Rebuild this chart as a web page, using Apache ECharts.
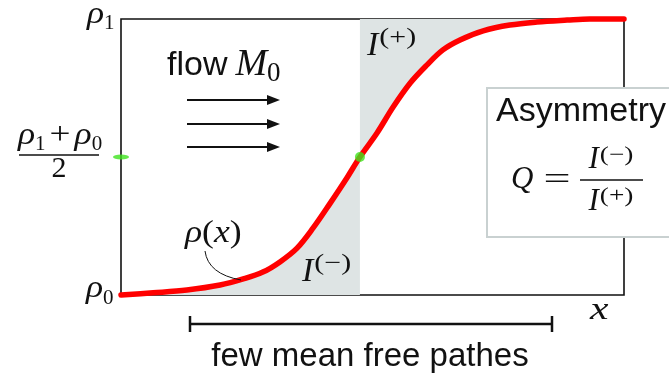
<!DOCTYPE html>
<html>
<head>
<meta charset="utf-8">
<script src="https://cdn.jsdelivr.net/npm/echarts@6/dist/echarts.min.js"></script>
<style>
  html, body { margin: 0; padding: 0; background: #fff; }
  #chart { width: 669px; height: 379px; }
</style>
</head>
<body>
<div id="chart"></div>
<script>
// Density profile ρ(x) through the shock layer.
// x in arbitrary length units (0..10), ρ normalised so that ρ0 = 0 and ρ1 = 1.
const xPos = [0, 0.64, 1.31, 1.97, 2.43, 2.82, 3.16, 3.50, 3.82, 4.16, 4.49, 4.75,
              5.09, 5.41, 5.75, 6.08, 6.40, 6.74, 7.20, 7.73, 8.27, 8.87, 9.32, 10];
const rho  = [0, 0.008, 0.018, 0.036, 0.058, 0.083, 0.120, 0.170, 0.243, 0.333, 0.424, 0.500,
              0.587, 0.681, 0.768, 0.833, 0.888, 0.924, 0.957, 0.978, 0.989, 0.996, 1.0, 1.0];
// index of the point where ρ = (ρ1 + ρ0) / 2
const midIndex = 11;
const rhoMid = 0.5;

const curve = xPos.map((x, i) => [x, rho[i]]);
const lowerPart = curve.slice(0, midIndex + 1);   // I(−): area under ρ(x)
const upperPart = curve.slice(midIndex);          // I(+): area between ρ(x) and ρ1

const chart = echarts.init(document.getElementById('chart'), null, { renderer: 'canvas' });

// --- helpers for the TeX-like labels ---
const measure = document.createElement('canvas').getContext('2d');
const SERIF = '"Liberation Serif", "DejaVu Serif", serif';
const SANS = '"Liberation Sans", "DejaVu Sans", sans-serif';
const INK = '#111';
function fontOf(p) {
  return (p.it ? 'italic ' : '') + p.size + 'px ' + (p.sans ? SANS : SERIF);
}
// lay out a row of glyph runs on a common baseline; sx widens a glyph run
function run(x, base, parts, align) {
  let w = 0;
  parts.forEach(p => {
    measure.font = fontOf(p);
    p.sx = p.sx || 1;
    p.w = measure.measureText(p.t).width * p.sx;
    w += p.w + (p.gap || 0) + (p.pre || 0);
  });
  let cx = align === 'center' ? x - w / 2 : x;
  const els = [];
  parts.forEach(p => {
    cx += (p.pre || 0);
    els.push({
      type: 'text', z: 120,
      x: cx, y: base + (p.dy || 0) - 0.32 * p.size,
      scaleX: p.sx,
      style: {
        text: p.t, x: 0, y: 0,
        font: fontOf(p), fill: INK,
        align: 'left', textAlign: 'left',
        verticalAlign: 'middle', textVerticalAlign: 'middle'
      }
    });
    cx += p.w + (p.gap || 0);
  });
  return els;
}
function seg(x1, y1, x2, y2, w, color) {
  return { type: 'line', z: 120, shape: { x1, y1, x2, y2 },
           style: { stroke: color || INK, lineWidth: w } };
}

// glyph presets
const rhoG = { t: 'ρ', size: 31, it: 1, sx: 1.15 };
const sub = (t, dy) => ({ t, size: 21, dy: dy });
const sup = (t, dy, size) => ({ t, size: size || 23, dy: dy, sx: 1.3, pre: 1 });

const graphics = [];

// axis value labels
graphics.push(...run(87, 25, [rhoG, sub('1', 5)]));
graphics.push(...run(18, 146, [
  rhoG, sub('1', 5),
  { t: '+', size: 31, sx: 1.2, pre: 4, gap: 4 },
  rhoG, sub('0', 5)
]));
graphics.push(seg(19, 155, 99, 155, 1.6));
graphics.push(...run(59, 179, [{ t: '2', size: 30 }], 'center'));
graphics.push(...run(86, 299, [rhoG, sub('0', 6)]));
graphics.push(...run(590, 321, [{ t: 'x', size: 32, it: 1, sx: 1.3 }]));

// curve label with leader line
graphics.push(...run(185, 244, [
  rhoG, { t: '(', size: 31, sx: 1.15 }, { t: 'x', size: 31, it: 1, sx: 1.15 }, { t: ')', size: 31, sx: 1.15 }
]));
graphics.push({
  type: 'bezierCurve', z: 120,
  shape: { x1: 205, y1: 251, x2: 241, y2: 280, cpx1: 208, cpy1: 274 },
  style: { stroke: INK, lineWidth: 1, fill: null }
});

// integral labels
graphics.push(...run(367, 57, [{ t: 'I', size: 34, it: 1 }, sup('(+)', -12)]));
graphics.push(...run(302, 283, [{ t: 'I', size: 34, it: 1 }, sup('(−)', -12)]));

// flow direction
graphics.push(...run(167, 77, [
  { t: 'flow', size: 34, sans: 1, gap: 8 },
  { t: 'M', size: 38, it: 1 }, { t: '0', size: 27, dy: 6 }
]));
[100, 124, 147].forEach(y => {
  graphics.push(seg(187, y, 270, y, 2));
  graphics.push({ type: 'polygon', z: 120,
    shape: { points: [[267, y - 5], [280, y], [267, y + 5]] }, style: { fill: INK } });
});

// length scale
graphics.push(seg(189, 324, 553, 324, 2.5));
graphics.push(seg(190, 316, 190, 332, 2.5));
graphics.push(seg(552, 316, 552, 332, 2.5));
graphics.push(...run(370, 367, [{ t: 'few mean free pathes', size: 33, sans: 1 }], 'center'));

// asymmetry box
graphics.push({ type: 'rect', z: 110,
  shape: { x: 487, y: 88, width: 220, height: 149 },
  style: { fill: '#fff', stroke: '#c9d1d1', lineWidth: 2 } });
graphics.push(...run(496, 123, [{ t: 'Asymmetry', size: 34, sans: 1 }]));
graphics.push(...run(511, 190, [{ t: 'Q', size: 31, it: 1 }]));
graphics.push(...run(557, 191, [{ t: '=', size: 32, sx: 1.5 }], 'center'));
graphics.push(seg(580, 180, 643, 180, 1.6));
graphics.push(...run(611, 170, [{ t: 'I', size: 31, it: 1 }, sup('(−)', -8, 21)], 'center'));
graphics.push(...run(611, 212, [{ t: 'I', size: 31, it: 1 }, sup('(+)', -9, 21)], 'center'));

const SHADE = '#dee4e4';
const GREEN = '#3fe31e';

chart.setOption({
  animation: false,
  backgroundColor: '#fff',
  grid: {
    left: 121, right: 45, top: 19, bottom: 84,
    show: true, borderColor: INK, borderWidth: 1.6, backgroundColor: 'transparent'
  },
  xAxis: {
    type: 'value', min: 0, max: 10,
    axisLine: { show: false }, axisTick: { show: false },
    axisLabel: { show: false }, splitLine: { show: false }
  },
  yAxis: {
    type: 'value', min: 0, max: 1,
    axisLine: { show: false }, axisTick: { show: false },
    axisLabel: { show: false }, splitLine: { show: false }
  },
  series: [
    {
      name: 'I(−)', type: 'line', data: lowerPart, smooth: 0.35,
      symbol: 'none', lineStyle: { width: 0 },
      areaStyle: { color: SHADE, opacity: 1, origin: 'start' }, z: 1
    },
    {
      name: 'I(+)', type: 'line', data: upperPart, smooth: 0.35,
      symbol: 'none', lineStyle: { width: 0 },
      areaStyle: { color: SHADE, opacity: 1, origin: 'end' }, z: 1
    },
    {
      name: 'ρ(x)', type: 'line', data: curve, smooth: 0.35, clip: false,
      symbol: 'none', lineStyle: { color: '#ff0000', width: 5.5, cap: 'round', join: 'round' }, z: 3
    },
    {
      name: 'midpoint', type: 'scatter', clip: false, z: 4,
      data: [[xPos[midIndex], rhoMid]],
      symbolSize: 10, itemStyle: { color: GREEN }
    },
    {
      name: 'mid level', type: 'scatter', clip: false, z: 4,
      data: [[0, rhoMid]],
      symbol: 'circle', symbolSize: [16, 5], itemStyle: { color: GREEN }
    }
  ],
  graphic: { elements: graphics }
});
</script>
</body>
</html>
